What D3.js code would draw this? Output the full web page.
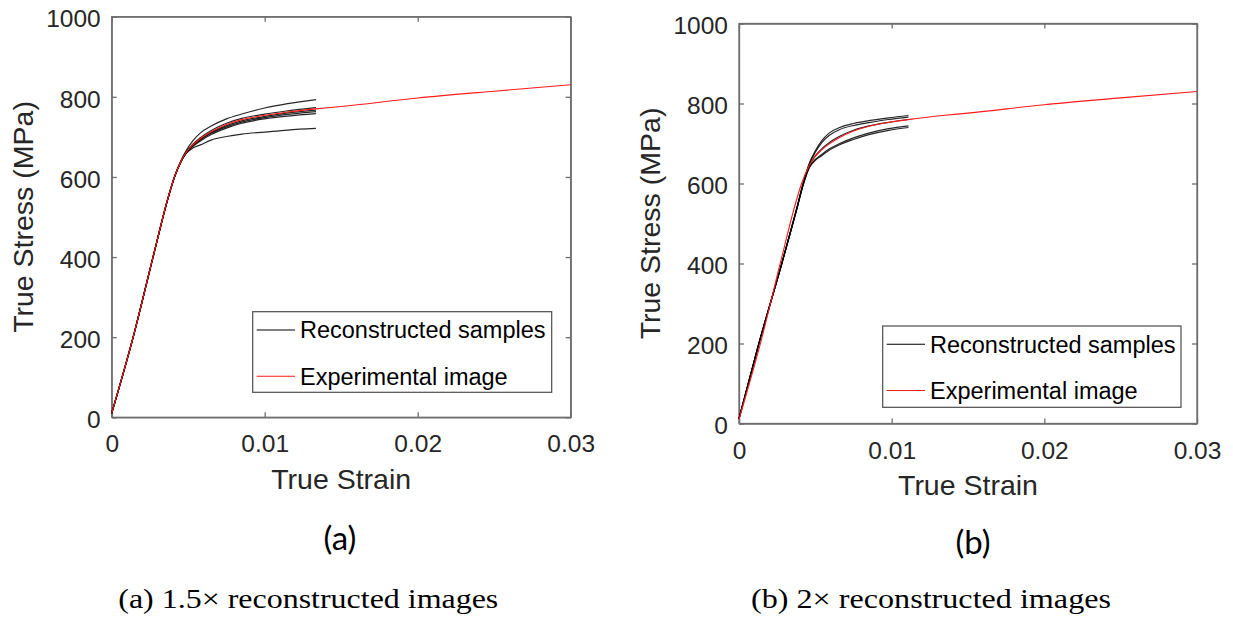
<!DOCTYPE html>
<html>
<head>
<meta charset="utf-8">
<script src="https://cdn.jsdelivr.net/npm/d3@7"></script>
<style>
  body { margin: 0; background: #fff; }
</style>
</head>
<body>
<div id="chart"></div>
<script>
// Experimental curve (same specimen image in both panels).
const expStrain = [0, 0.0014, 0.0027, 0.0037, 0.0041, 0.00455, 0.0049, 0.0053, 0.0058, 0.0065,
  0.0075, 0.0085, 0.010, 0.0115, 0.01335, 0.015, 0.02, 0.025, 0.03];
const expStress = [10, 200, 400, 550, 600, 641, 663, 680, 696, 713,
  731, 743, 754, 762, 770, 776, 797, 814, 830];

// (a) 1.5x reconstructed samples
const strainA = [0, 0.0014, 0.0027, 0.0037, 0.0041, 0.00455, 0.0049, 0.0053, 0.0058, 0.0065,
  0.0075, 0.0085, 0.010, 0.0115, 0.01335];
const stressA = [
  [10, 200, 400, 550, 600, 643, 668, 690, 710, 727, 745, 757, 772, 783, 793],
  [10, 200, 400, 550, 600, 641, 664, 682, 698, 716, 734, 746, 757, 765, 773],
  [10, 199, 399, 549, 599, 640, 662, 679, 694, 711, 728, 740, 751, 760, 767],
  [10, 199, 399, 549, 599, 640, 662, 678, 693, 709, 725, 737, 748, 756, 763],
  [10, 200, 400, 550, 600, 640, 661, 676, 690, 706, 722, 734, 745, 752, 758],
  [10, 200, 400, 550, 600, 640, 660, 672, 680, 692, 701, 707, 712, 717, 721]
];

// (b) 2x reconstructed samples
const strainB = [0, 0.0013, 0.0028, 0.0038, 0.0042, 0.0046, 0.005, 0.0054, 0.0059, 0.0066,
  0.0075, 0.0085, 0.0098, 0.0111];
const stressB = [
  [12, 200, 400, 540, 600, 650, 682, 706, 726, 740, 750, 757, 764, 770],
  [12, 200, 400, 540, 600, 648, 678, 701, 720, 735, 745, 752, 760, 766],
  [12, 200, 400, 540, 598, 643, 669, 686, 702, 718, 733, 744, 753, 760],
  [12, 199, 399, 538, 596, 640, 660, 672, 686, 700, 714, 726, 737, 744],
  [12, 199, 399, 538, 596, 639, 658, 669, 683, 697, 710, 722, 733, 740]
];

const xTicks = [0, 0.01, 0.02, 0.03];
const yTicks = [0, 200, 400, 600, 800, 1000];
const legendLabels = ['Reconstructed samples', 'Experimental image'];

const SANS = "'Liberation Sans', Arial, sans-serif";
const AXIS = '#6e6e6e';

const panels = [
  {strain: strainA, stress: stressA, left: 111.7, right: 570.7, top: 16.7, bottom: 417.3,
   legend: {x: 252.7, y: 311.7, w: 299, h: 80.6}, tag: '(a)', tagX: 340, tagY: 550,
   caption: '(a) 1.5\u00d7 reconstructed images', capX: 308.3, capW: 380},
  {strain: strainB, stress: stressB, left: 739, right: 1197, top: 23.5, bottom: 423.5,
   legend: {x: 882.7, y: 326, w: 298.3, h: 81.3}, tag: '(b)', tagX: 973, tagY: 554,
   caption: '(b) 2\u00d7 reconstructed images', capX: 931, capW: 360}
];

const svg = d3.select('#chart').append('svg')
  .attr('width', 1233)
  .attr('height', 620);

svg.append('rect').attr('width', 1233).attr('height', 620).attr('fill', '#fff');

panels.forEach(p => drawPanel(svg, p));

function drawPanel(svg, p) {
  const x = d3.scaleLinear().domain([0, 0.03]).range([p.left, p.right]);
  const y = d3.scaleLinear().domain([0, 1000]).range([p.bottom, p.top]);
  const fmtX = d => d === 0 ? '0' : d3.format('.2f')(d);

  const g = svg.append('g');

  // Axes with inward ticks, mirrored on top / right
  const bottom = g.append('g')
    .attr('transform', `translate(0, ${p.bottom})`)
    .call(d3.axisBottom(x).tickValues(xTicks).tickFormat(fmtX).tickSizeInner(-5).tickSizeOuter(0));
  bottom.selectAll('text').attr('dy', null).attr('y', 35);

  const left = g.append('g')
    .attr('transform', `translate(${p.left}, 0)`)
    .call(d3.axisLeft(y).tickValues(yTicks).tickFormat(d3.format('d')).tickSizeInner(-5).tickSizeOuter(0));
  left.selectAll('text').attr('x', -11).attr('dy', '0.42em');

  g.append('g')
    .attr('transform', `translate(0, ${p.top})`)
    .call(d3.axisTop(x).tickValues(xTicks).tickFormat('').tickSizeInner(-5).tickSizeOuter(0));
  g.append('g')
    .attr('transform', `translate(${p.right}, 0)`)
    .call(d3.axisRight(y).tickValues(yTicks).tickFormat('').tickSizeInner(-5).tickSizeOuter(0));

  g.selectAll('.domain, .tick line').attr('stroke', AXIS).attr('stroke-width', 1.3);
  g.selectAll('.tick text')
    .attr('fill', '#262626')
    .style('font-family', SANS)
    .style('font-size', '24.5px');

  g.append('rect')
    .attr('x', p.left).attr('y', p.top)
    .attr('width', p.right - p.left).attr('height', p.bottom - p.top)
    .attr('fill', 'none').attr('stroke', AXIS).attr('stroke-width', 1.3);

  // Axis labels
  g.append('text')
    .attr('x', (p.left + p.right) / 2)
    .attr('y', p.bottom + 71.5)
    .attr('text-anchor', 'middle')
    .style('font-family', SANS).style('font-size', '28.5px')
    .attr('fill', '#262626')
    .text('True Strain');

  g.append('text')
    .attr('transform', `translate(${p.left - 79}, ${(p.top + p.bottom) / 2}) rotate(-90)`)
    .attr('text-anchor', 'middle')
    .style('font-family', SANS).style('font-size', '28.5px')
    .attr('fill', '#262626')
    .text('True Stress (MPa)');

  // Curves
  const line = d3.line()
    .x(d => x(d[0]))
    .y(d => y(d[1]))
    .curve(d3.curveMonotoneX);

  const curves = g.append('g');
  p.stress.forEach(s => {
    curves.append('path')
      .datum(p.strain.map((e, i) => [e, s[i]]))
      .attr('d', line)
      .attr('fill', 'none')
      .attr('stroke', '#000')
      .attr('stroke-opacity', 0.85)
      .attr('stroke-width', 1.2);
  });

  curves.append('path')
    .datum(expStrain.map((e, i) => [e, expStress[i]]))
    .attr('d', line)
    .attr('fill', 'none')
    .attr('stroke', '#ff1a1a')
    .attr('stroke-width', 1.1);

  // Legend
  const L = p.legend;
  const lg = g.append('g').attr('transform', `translate(${L.x}, ${L.y})`);
  lg.append('rect')
    .attr('width', L.w).attr('height', L.h)
    .attr('fill', '#fff').attr('stroke', '#4d4d4d').attr('stroke-width', 1.2);
  const rows = [18.3, 64.5];
  const colors = ['#000', '#ff1a1a'];
  legendLabels.forEach((lab, i) => {
    lg.append('line')
      .attr('x1', 4).attr('x2', 42.3)
      .attr('y1', rows[i]).attr('y2', rows[i])
      .attr('stroke', colors[i]).attr('stroke-width', 1.1);
    lg.append('text')
      .attr('x', 47.3).attr('y', rows[i] + 8.4)
      .style('font-family', SANS).style('font-size', '23.5px')
      .attr('fill', '#000')
      .text(lab);
  });

  // Sub-figure tag and caption
  svg.append('text')
    .attr('x', p.tagX).attr('y', p.tagY)
    .attr('text-anchor', 'middle')
    .style('font-family', 'Lato, "Open Sans", sans-serif')
    .style('font-size', '33px')
    .attr('fill', '#000')
    .text(p.tag);

  svg.append('text')
    .attr('x', p.capX).attr('y', 608)
    .attr('text-anchor', 'middle')
    .style('font-family', '"Liberation Serif", "Times New Roman", serif')
    .style('font-size', '27px')
    .attr('fill', '#000')
    .attr('textLength', p.capW)
    .attr('lengthAdjust', 'spacingAndGlyphs')
    .text(p.caption);
}
</script>
</body>
</html>
